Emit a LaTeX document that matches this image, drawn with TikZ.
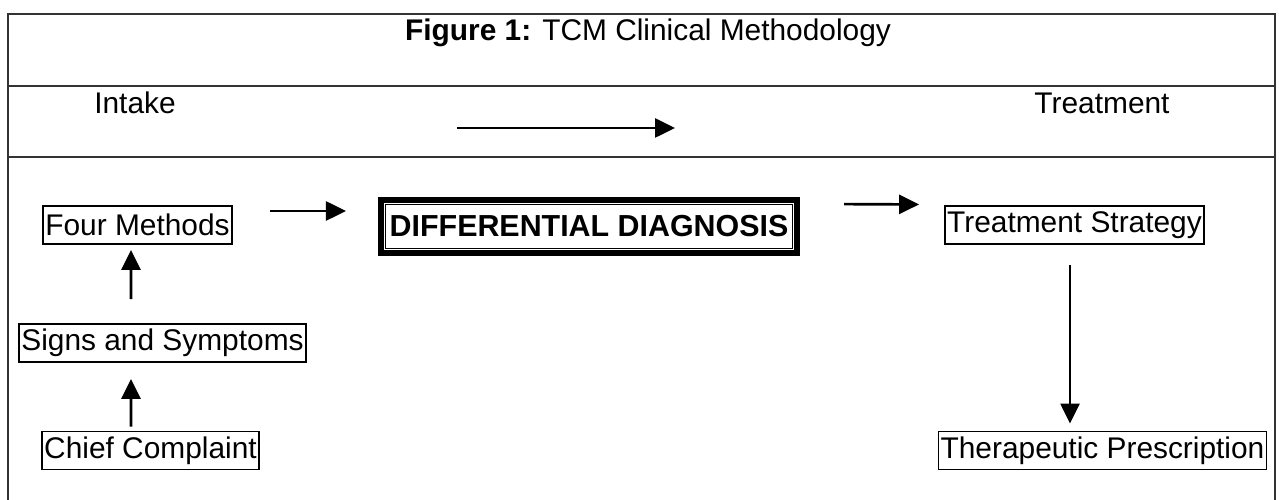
\documentclass[tikz,border=0pt]{standalone}
\usepackage{fontspec}
\setmainfont{Liberation Sans}
\usetikzlibrary{arrows.meta}

\begin{document}
\begin{tikzpicture}[every node/.style={font=\fontsize{17}{19}\selectfont},
	box/.style={draw, line width=1.1pt, inner xsep=1.2pt, inner ysep=2pt, minimum height=0.76cm},
	arr/.style={line width=1.5pt, -{Triangle[length=0.4cm, width=0.38cm]}},
	frame/.style={line width=1.2pt, draw=black!80}]
		\useasboundingbox (0,0) rectangle (25.58,-10);
		% outer frame and header rows
		\draw[frame] (0.16,-10.2) -- (0.16,-0.28) -- (25.5,-0.28) -- (25.5,-10.2);
		\draw[frame] (0.16,-1.72) -- (25.5,-1.72);
		\draw[frame] (0.16,-3.14) -- (25.5,-3.14);
		\node (title) at (12.96,-0.66) {\textbf{Figure 1:} TCM Clinical Methodology};
		\node (intake) at (2.7,-2.06) {Intake};
		\node (treat) at (22.04,-2.06) {Treatment};
		\coordinate (hs) at (9.14,-2.56);
		\coordinate (he) at (13.5,-2.56);
		\draw[arr] (hs) -- (he);
		% left column
		\node[box] (four) at (2.75,-4.5) {Four Methods};
		\node[box] (signs) at (3.25,-6.86) {Signs and Symptoms};
		\node[box] (chief) at (3.01,-9.01) {Chief Complaint};
		% centre
		\node[draw, line width=4pt, minimum width=8.3cm, minimum height=1.04cm, inner sep=0pt, font=\fontsize{17.3}{19}\selectfont\bfseries] (diff) at (11.78,-4.53) {DIFFERENTIAL DIAGNOSIS};
		\draw[line width=0.45pt, double, double distance=1.1pt] ([shift={(0.13,0.13)}]diff.south west) rectangle ([shift={(-0.13,-0.13)}]diff.north east);
		% right column
		\node[box] (strat) at (21.49,-4.5) {Treatment Strategy};
		\node[box] (presc) at (22.05,-9.01) {Therapeutic Prescription};
		\draw[arr, shorten <=0.48cm, shorten >=0.1cm] ([xshift=-0.63cm]signs.north) -- ([xshift=-0.13cm]four.south);
		\draw[arr, shorten <=0.08cm, shorten >=0.32cm] ([xshift=-0.39cm]chief.north) -- ([xshift=-0.63cm]signs.south);
		\draw[arr, shorten <=0.74cm, shorten >=0.64cm] ([yshift=0.28cm]four.east) -- ([yshift=0.31cm]diff.west);
		\draw[arr, shorten <=0.88cm, shorten >=0.5cm] ([yshift=0.45cm]diff.east) -- ([yshift=0.41cm]strat.west);
		\draw[arr, shorten <=0.4cm, shorten >=0.14cm] ([xshift=-0.09cm]strat.south) -- ([xshift=-0.65cm]presc.north);
	\end{tikzpicture}
\end{document}
